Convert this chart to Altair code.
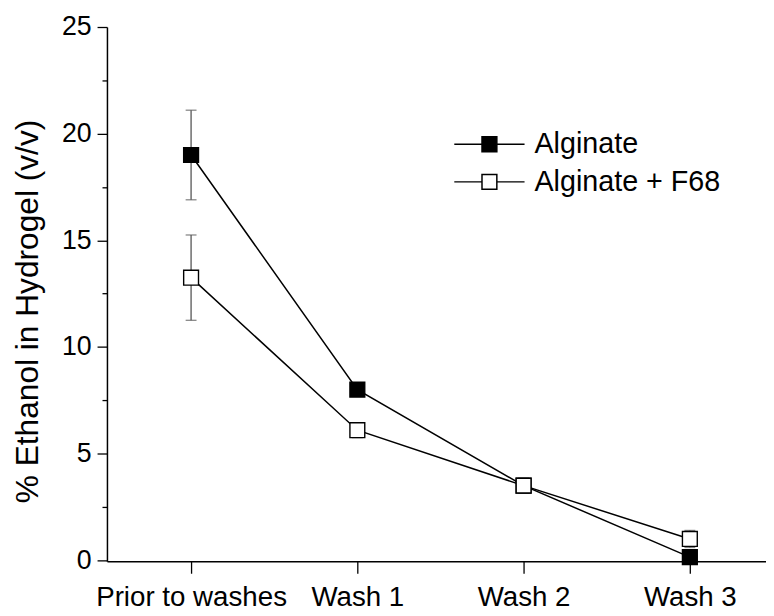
import json
import altair as alt
import pandas as pd

categories = ["Prior to washes", "Wash 1", "Wash 2", "Wash 3"]
series_names = ["Alginate", "Alginate + F68"]
alginate = [19.0, 8.0, 3.5, 0.15]
alginate_err = [2.1, 0.2, 0.2, 0.1]
f68 = [13.25, 6.1, 3.5, 1.0]
f68_err = [2.0, 0.35, 0.35, 0.4]
y_ticks = [0, 2.5, 5, 7.5, 10, 12.5, 15, 17.5, 20, 22.5, 25]

rows = []
for vals, errs, name in [(alginate, alginate_err, series_names[0]), (f68, f68_err, series_names[1])]:
    for i, c in enumerate(categories):
        rows.append({"pos": i, "cat": c, "series": name, "val": vals[i],
                     "lo": vals[i] - errs[i], "hi": vals[i] + errs[i]})
df = pd.DataFrame(rows)

FONT = "Liberation Sans"
label_expr = json.dumps(categories) + "[datum.value]"

x_axis = alt.Axis(values=list(range(len(categories))), labelExpr=label_expr, title=None,
                  grid=False, tickSize=12, tickWidth=1.3, domainWidth=1.5,
                  labelFontSize=28, labelFont=FONT, labelColor="black", labelLimit=0,
                  labelPadding=11, domainColor="black", tickColor="black")
y_axis = alt.Axis(values=y_ticks, title="% Ethanol in Hydrogel (v/v)",
                  labelExpr="datum.value % 5 === 0 ? datum.label : ''",
                  grid=False, tickSize={"condition": {"test": "datum.value % 5 !== 0", "value": 5}, "value": 10},
                  tickWidth=1.3, domainWidth=1.5,
                  labelFontSize=27, labelFont=FONT, labelColor="black", labelPadding=6,
                  domainColor="black", tickColor="black",
                  titleFontSize=32, titleFont=FONT, titleFontWeight="normal", titleColor="black",
                  titleAngle=270, titleX=-80, titleY=287, titleAlign="center", titleBaseline="middle")

x_enc = alt.X("pos:Q", scale=alt.Scale(domain=[-0.506, 3.458], nice=False, zero=False), axis=x_axis)
y_scale = alt.Scale(domain=[-0.05, 25], nice=False, zero=False)

# legend glyph: line with a square in the middle (path units = 0.5 px at size 1)
legend_path = "M-71,0L-15,0M15,0L71,0M-15,-15L15,-15L15,15L-15,15Z"

base = alt.Chart(df)

lines = base.mark_line(color="black", strokeWidth=1.5).encode(
    x=x_enc, y=alt.Y("val:Q", scale=y_scale, axis=y_axis), detail="series:N")

err_rule = base.mark_rule(color="#555", strokeWidth=1.3).encode(
    x=x_enc, y=alt.Y("lo:Q", scale=y_scale, axis=y_axis), y2="hi:Q")
err_lo = base.mark_tick(color="#555", orient="horizontal", size=11, thickness=1.3).encode(
    x=x_enc, y=alt.Y("lo:Q", scale=y_scale, axis=y_axis))
err_hi = base.mark_tick(color="#555", orient="horizontal", size=11, thickness=1.3).encode(
    x=x_enc, y=alt.Y("hi:Q", scale=y_scale, axis=y_axis))

points = base.mark_point(shape="square", size=225, filled=True, stroke="black",
                         strokeWidth=1.4, opacity=1).encode(
    x=x_enc, y=alt.Y("val:Q", scale=y_scale, axis=y_axis),
    fill=alt.Fill("series:N", scale=alt.Scale(domain=series_names, range=["black", "white"]),
                  legend=alt.Legend(title=None, orient="none", legendX=372, legendY=104,
                                    symbolType=legend_path, symbolSize=1,
                                    symbolStrokeColor="black", symbolStrokeWidth=1.5,
                                    symbolOpacity=1, labelLimit=0,
                                    labelFontSize=29, labelFont=FONT, labelColor="black",
                                    labelOffset=31, rowPadding=8)))

chart = alt.layer(lines, err_rule, err_lo, err_hi, points).properties(
    width=666, height=540,
    padding={"left": 100, "top": 16, "right": 0, "bottom": 52},
    autosize=alt.AutoSizeParams(type="none"),
).configure_view(stroke=None)

chart.save("out.html", embed_options={"renderer": "svg", "actions": False})
